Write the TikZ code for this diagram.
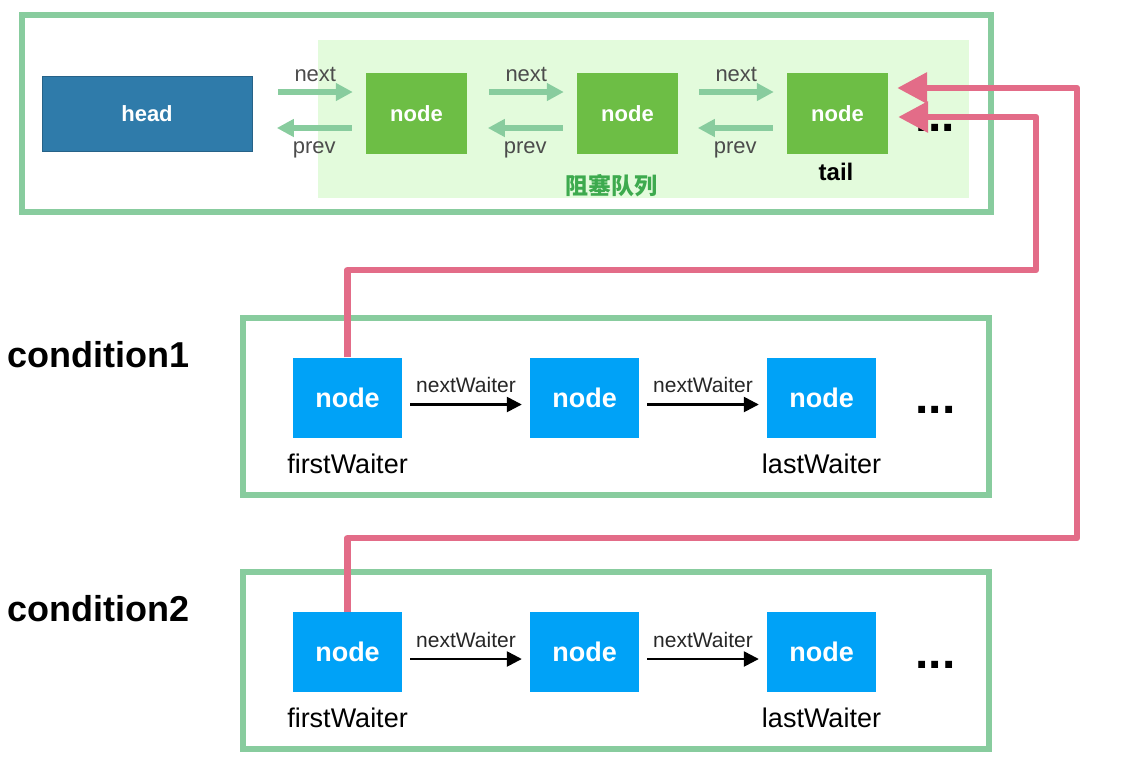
\documentclass[tikz,border=0pt]{standalone}
\usepackage{fontspec}
\setmainfont{Liberation Sans}
\newfontfamily\cjkfont{Noto Sans CJK SC}
\usetikzlibrary{arrows.meta,calc}
\definecolor{frameGreen}{HTML}{88CC9E}
\definecolor{queueBg}{HTML}{E3FBDC}
\definecolor{headBlue}{HTML}{2F7BAA}
\definecolor{qGreen}{HTML}{6DBE45}
\definecolor{wBlue}{HTML}{00A2F7}
\definecolor{linkPink}{HTML}{E36C88}
\definecolor{labelGreen}{HTML}{3DAA4E}
\newcommand{\fsz}[1]{\fontsize{#1}{#1}\selectfont}
\tikzset{
  frame/.style={draw=frameGreen, line width=6pt},
  qnode/.style={fill=qGreen, text=white, minimum width=101pt, minimum height=81pt, inner sep=0pt, font=\fsz{22}\bfseries},
  headbox/.style={fill=headBlue, draw=headBlue!80!black, line width=0.6pt, text=white, minimum width=210pt, minimum height=75pt, inner sep=0pt, font=\fsz{22}\bfseries},
  wnode/.style={fill=wBlue, text=white, minimum width=109pt, minimum height=80pt, inner sep=0pt, font=\fsz{27}\bfseries},
  qarrow/.style={draw=frameGreen, line width=5.5pt, -{Triangle[width=17pt,length=17pt]}},
  warrow/.style={draw=black, line width=2.5pt, -{Triangle[width=15pt,length=15pt]}},
  link/.style={draw=linkPink, line width=6.5pt, -{Triangle[width=30pt,length=30pt]}},
  small/.style={font=\fsz{22}, text=black!70},
  wlabel/.style={font=\fsz{27}, text=black},
  cond/.style={font=\fsz{36}\bfseries, text=black},
  dots/.style={font=\fsz{48}\bfseries, text=black, anchor=base, inner sep=0pt},
}
\begin{document}
\begin{tikzpicture}[x=1pt,y=-1pt]
\useasboundingbox (0,0) rectangle (1138,769);

% ---- sync queue ----
\draw[frame] (22,15) rectangle (991,212);
\fill[queueBg] (318,40) rectangle (969,198);
\node[headbox] (head) at (147,113.5) {head};
\node[qnode] (q1) at (416.5,113.5) {node};
\node[qnode] (q2) at (627.5,113.5) {node};
\node[qnode] (tail) at (837.5,113.5) {node};

\foreach \a/\b in {head/q1,q1/q2,q2/tail}{
  \draw[qarrow] ($(\b.west)+(-88,-21.5)$) -- ($(\b.west)+(-13,-21.5)$)
     node[small, midway, above=4pt] {next};
  \draw[qarrow] ($(\b.west)+(-14,14.5)$) -- ($(\b.west)+(-89,14.5)$)
     node[small, midway, below=8pt] {prev};
}
\node[font=\fsz{24}\bfseries] (taillabel) at (836,172) {tail};
\node[font=\fsz{23}\bfseries, text=labelGreen] (qname) at (611.5,186) {\cjkfont 阻塞队列};
\node[dots] (qdots) at (935,131) {...};

% ---- condition queues ----
\foreach \row/\y in {1/397.5,2/652}{
  \draw[frame] (243,\y-80) rectangle (989,\y+97);
  \node[cond, anchor=west, inner sep=0pt] (cl\row) at (7,\y-43) {condition\row};
  \node[wnode] (w\row a) at (347.5,\y) {node};
  \node[wnode] (w\row b) at (584.5,\y) {node};
  \node[wnode] (w\row c) at (821.5,\y) {node};
  \draw[warrow] (w\row a.east) ++(8,7) coordinate (s\row a) -- ($(w\row b.west)+(-8,7)$) coordinate (e\row a);
  \draw[warrow] (w\row b.east) ++(8,7) coordinate (s\row b) -- ($(w\row c.west)+(-8,7)$) coordinate (e\row b);
  \node[font=\fsz{21}, text=black!85, anchor=base] at ($(s\row a)!0.5!(e\row a)+(0,-12)$) {nextWaiter};
  \node[font=\fsz{21}, text=black!85, anchor=base] at ($(s\row b)!0.5!(e\row b)+(0,-12)$) {nextWaiter};
  \node[wlabel] (fw\row) at (347.5,\y+66) {firstWaiter};
  \node[wlabel] (lw\row) at (821.5,\y+66) {lastWaiter};
  \node[dots] (d\row) at (935.5,\y+16) {...};
}

% ---- firstWaiter links back to the tail of the sync queue ----
\coordinate (turn1) at (1036,270);
\coordinate (turn2) at (1077,538);
\coordinate (end1) at (1036,117);
\coordinate (end2) at (1077,88);
\draw[link, line join=round] (w1a.north) |- (turn1) -- (end1) -- ($(tail.east|-end1)+(10,0)$);
\draw[link, line join=round] (w2a.north) |- (turn2) -- (end2) -- ($(tail.east|-end2)+(9,0)$);
\end{tikzpicture}
\end{document}
